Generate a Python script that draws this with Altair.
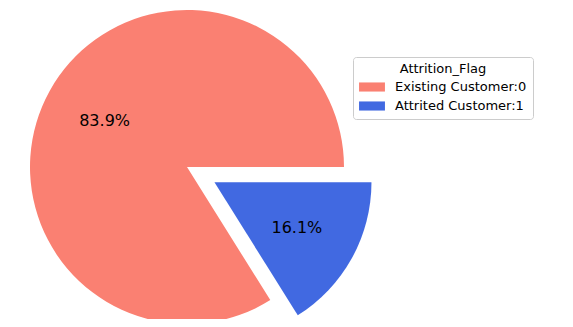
import math
import altair as alt
import pandas as pd

labels = ["Existing Customer:0", "Attrited Customer:1"]
values = [83.9, 16.1]
colors = ["#FA8072", "#4169E1"]
explode = [0.0, 0.2]
legend_title = "Attrition_Flag"

# layout constants
cx, cy, R = 179, 159, 157
label_r = 0.6 * R

# slices are laid out clockwise from 3 o'clock, the attrited one first
order = [1, 0]
rows = []
acc = 0.0
for i in order:
    rows.append(dict(label=labels[i], value=values[i], start=acc,
                     end=acc + values[i], mid=acc + values[i] / 2,
                     pct=f"{values[i]:.1f}%", explode=explode[i]))
    acc += values[i]
df = pd.DataFrame(rows)

theta_scale = alt.Scale(domain=[0, 100], range=[math.pi / 2, math.pi / 2 + 2 * math.pi])
color_scale = alt.Scale(domain=labels, range=colors)

layers = []
for r in rows:
    t = math.pi / 2 + r["mid"] / 100 * 2 * math.pi
    dx = r["explode"] * R * math.sin(t)
    dy = -r["explode"] * R * math.cos(t)
    base = alt.Chart(df).transform_filter(alt.datum.label == r["label"])
    arc = base.mark_arc(radius=R, strokeWidth=0).encode(
        theta=alt.Theta("start:Q", scale=theta_scale, stack=None),
        theta2="end:Q",
        color=alt.Color("label:N", scale=color_scale, sort=labels,
                        legend=alt.Legend(title=legend_title)),
        x=alt.value(cx + dx),
        y=alt.value(cy + dy),
    )
    txt = base.mark_text(radius=label_r, fontSize=16, font="DejaVu Sans",
                         color="black", align="center", baseline="middle").encode(
        theta=alt.Theta("mid:Q", scale=theta_scale, stack=None),
        text="pct:N",
        x=alt.value(cx + dx),
        y=alt.value(cy + dy),
    )
    layers += [arc, txt]

chart = alt.layer(*layers).properties(
    width=557, height=311, padding=0, autosize=alt.AutoSizeParams(type="none")
).configure_view(stroke=None).configure_legend(
    orient="none", legendX=345, legendY=49,
    strokeColor="#cccccc", cornerRadius=3, padding=6, fillColor="white",
    titleFont="DejaVu Sans", titleFontSize=13, titleFontWeight="normal",
    titleColor="black", titleAnchor="middle", titlePadding=4,
    labelFont="DejaVu Sans", labelFontSize=13, labelColor="black",
    symbolType="M-1.85,-0.65H1.85V0.65H-1.85Z", symbolSize=196, symbolStrokeWidth=0,
    symbolOffset=6, labelOffset=16, rowPadding=5,
)

chart.save("out.html", embed_options={"renderer": "svg", "actions": False})
